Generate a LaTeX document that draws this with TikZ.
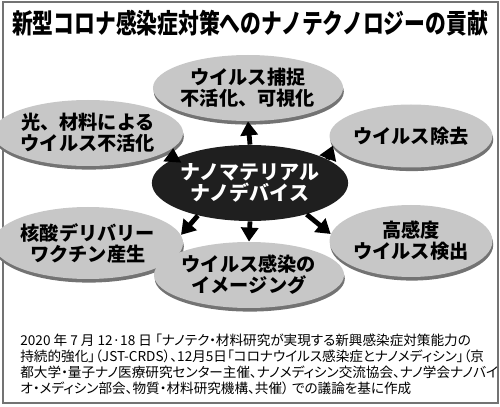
\documentclass[tikz,border=0pt]{standalone}
\usepackage{fontspec}
\newfontfamily\jp{Noto Sans CJK JP}
\newfontfamily\jpnote[RawFeature=+palt]{Noto Sans CJK JP}
\usetikzlibrary{%
  shapes.geometric,
  arrows.meta,
  shadows}
\tikzset{
  %% Outer topic ellipses
  topicnode/.style={
    ellipse, fill=black!22, inner sep=0pt,
    align=center, minimum width=67pt, minimum height=33pt,
    drop shadow={shadow xshift=0.4pt, shadow yshift=-1.8pt,
      fill=black!55, opacity=1},
    font=\jp\bfseries\fontsize{9.6}{10.5}\selectfont},
  %% Central ellipse
  corenode/.style={
    ellipse, fill=black!88, text=white, inner sep=0pt,
    align=center, minimum width=83pt, minimum height=38pt,
    font=\jp\bfseries\fontsize{10}{10.5}\selectfont},
  %% Title and note
  titlenode/.style={font=\jp\bfseries\fontsize{13.5}{14}\selectfont,
    xscale=0.77, inner sep=0pt},
  notenode/.style={font=\jpnote\fontsize{6.8}{7.85}\selectfont,
    align=left, inner sep=0pt, anchor=north west},
  %% Arrows
  arrow/.style={-{Triangle[length=7pt,width=8.5pt]}, line width=2.4pt, black},
  framebox/.style={draw=black!55, line width=0.8pt},
}
\begin{document}
\begin{tikzpicture}[x=0.5pt, y=-0.5pt]
  \useasboundingbox (0,0) rectangle (500,407);
  \draw[framebox] (3,2) rectangle (498,403);

  \node[titlenode] (title) at (250,23)
        {新型コロナ感染症対策へのナノテクノロジーの貢献};

  \node[corenode] (core) at (250,183) {ナノマテリアル\\ナノデバイス};

  \node[topicnode, minimum width=68.5pt] (capture) at (248,88)
        {ウイルス捕捉\\不活化、可視化};
  \node[topicnode] (inact) at (88,133)
        {光、材料による\\ウイルス不活化};
  \node[topicnode, minimum height=36pt] (vaccine) at (88,243)
        {核酸デリバリー\\ワクチン産生};
  \node[topicnode, minimum height=31.5pt] (removal) at (411,136)
        {ウイルス除去};
  \node[topicnode, minimum height=36pt] (detect) at (411,241)
        {高感度\\ウイルス検出};
  \node[topicnode, minimum width=68.5pt] (imaging) at (249,275)
        {ウイルス感染の\\イメージング};

  \draw[arrow] (core.north) -- (capture.south);
  \draw[arrow] (core.163) -- (inact.-10);
  \draw[arrow] (core.212) -- (vaccine.5);
  \draw[arrow] (core.17) -- (removal.187);
  \draw[arrow] (core.331) -- (detect.175);
  \draw[arrow] (core.south) -- (imaging.north);

  %% Source note
  \node[notenode] (note) at (20,334)
        {2020 年 7 月 12·18 日 「ナノテク・材料研究が実現する新興感染症対策能力の\\
         持続的強化」（JST-CRDS）、12月5日「コロナウイルス感染症とナノメディシン」（京\\
         都大学・量子ナノ医療研究センター主催、ナノメディシン交流協会、ナノ学会ナノバイ\\
         オ・メディシン部会、物質・材料研究機構、共催） での議論を基に作成};
\end{tikzpicture}
\end{document}
